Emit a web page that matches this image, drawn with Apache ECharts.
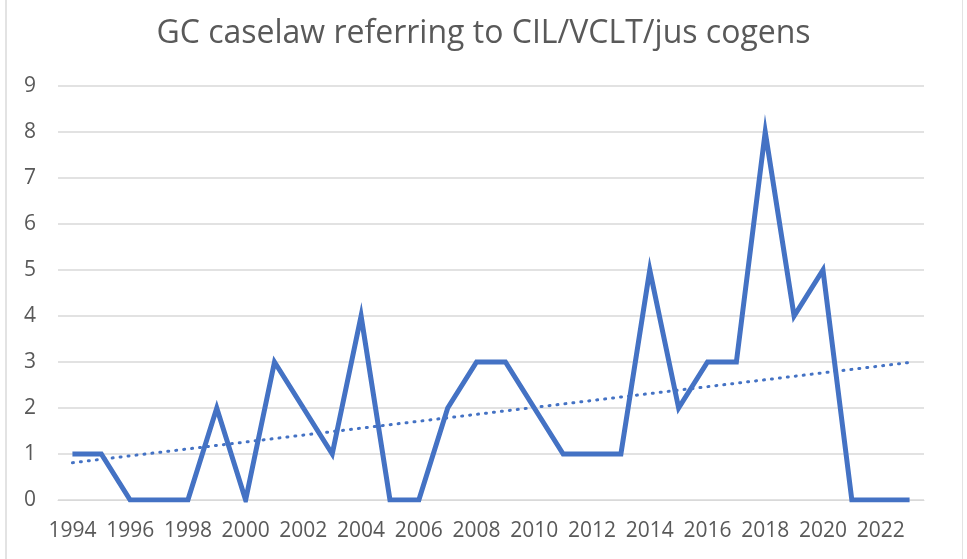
<!DOCTYPE html>
<html><head><meta charset="utf-8">
<script src="https://cdn.jsdelivr.net/npm/echarts@6/dist/echarts.min.js"></script>
<style>html,body{margin:0;padding:0;background:#fff}#c{width:967px;height:559px}</style>
</head><body><div id="c"></div>
<script>
const years = ['1994','1995','1996','1997','1998','1999','2000','2001','2002','2003','2004','2005','2006','2007','2008','2009','2010','2011','2012','2013','2014','2015','2016','2017','2018','2019','2020','2021','2022','2023'];
const cases = [1,1,0,0,0,2,0,3,2,1,4,0,0,2,3,3,2,1,1,1,5,2,3,3,8,4,5,0,0,0];
const trendStart = 0.81;
const trendEnd = 2.99;
const yTicks = [0,1,2,3,4,5,6,7,8,9];

const trend = years.map((y,i)=> i===0 ? trendStart : (i===years.length-1 ? trendEnd : null));

const chart = echarts.init(document.getElementById('c'));
const font = '"Open Sans", "Liberation Sans", sans-serif';
chart.setOption({
  animation:false,
  title:{text:'GC caselaw referring to CIL/VCLT/jus cogens',left:'center',top:13,
    textStyle:{fontFamily:font,fontSize:32,fontWeight:'normal',color:'#595959'}},
  grid:{left:58,right:43,top:86,bottom:59},
  graphic:[
    {type:'rect',shape:{x:5,y:0,width:2,height:559},style:{fill:'#e3e3e3'}},
    {type:'rect',shape:{x:962,y:0,width:1,height:559},style:{fill:'#e3e3e3'}}
  ],
  xAxis:{type:'category',data:years,boundaryGap:true,
    axisLine:{show:true,lineStyle:{color:'#d9d9d9',width:1}},axisTick:{show:false},
    axisLabel:{interval:1,margin:21,fontFamily:font,fontSize:21,color:'#595959'}},
  yAxis:{type:'value',min:yTicks[0],max:yTicks[yTicks.length-1],interval:1,
    axisLine:{show:false},axisTick:{show:false},
    splitLine:{lineStyle:{color:'#d9d9d9',width:1.5}},
    axisLabel:{margin:22,fontFamily:font,fontSize:21,color:'#595959'}},
  series:[
    {type:'line',data:cases,symbol:'none',lineStyle:{color:'#4472C4',width:5,join:'miter'},z:3},
    {type:'line',data:trend,connectNulls:true,symbol:'none',
      lineStyle:{color:'#4472C4',width:3,type:[1,7],cap:'round'},z:4}
  ]
});
</script></body></html>
